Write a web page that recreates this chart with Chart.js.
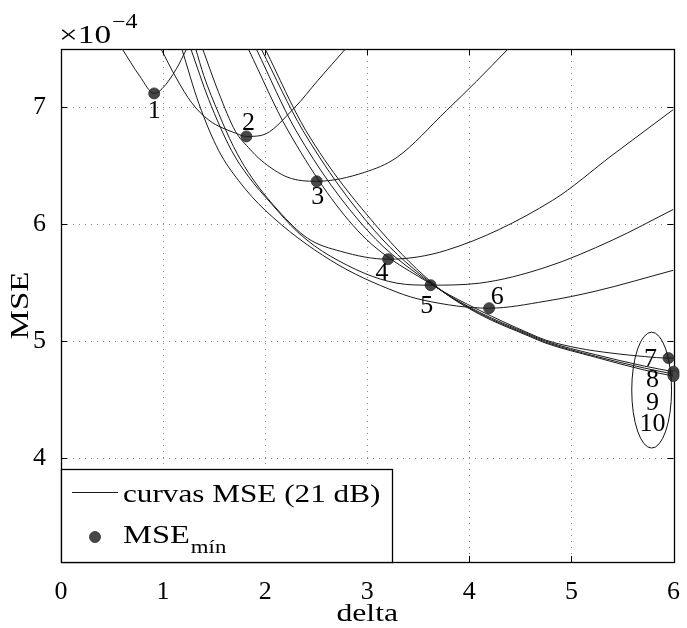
<!DOCTYPE html>
<html><head><meta charset="utf-8">
<script src="https://cdn.jsdelivr.net/npm/chart.js@4/dist/chart.umd.min.js"></script>
<style>html,body{margin:0;padding:0;background:#fff;}#wrap{width:687px;height:628px;}</style>
</head><body><div id="wrap"><canvas id="c" width="687" height="628"></canvas></div>
<script>
// ---- data (MSE in units of 1e-4) ----
const xTicks=[0,1,2,3,4,5,6];
const yTicks=[4,5,6,7];
const xRange=[0,6];
const yRange=[3.11,7.5];
const curve1=[[0.60,7.50],[0.77,7.27],[0.913,7.12],[0.99,7.16],[1.13,7.33],[1.23,7.50]];
const curve2=[[0.98,7.50],[1.13,7.25],[1.28,7.04],[1.45,6.89],[1.71,6.78],[1.816,6.752],[1.96,6.76],[2.29,7.00],[2.515,7.23],[2.786,7.50]];
const curve3=[[1.388,7.50],[1.544,7.128],[1.709,6.795],[1.835,6.658],[1.961,6.547],[2.223,6.402],[2.505,6.368],[2.971,6.444],[3.291,6.573],[3.777,6.974],[4.068,7.222],[4.379,7.50]];
const curve4=[[1.32,7.50],[1.398,7.274],[1.544,6.949],[1.689,6.667],[1.835,6.444],[2.126,6.12],[2.417,5.88],[2.738,5.769],[3.204,5.701],[3.777,5.778],[4.816,6.205],[5.398,6.59],[6.0,6.983]];
const curve5=[[1.272,7.50],[1.447,7.068],[1.67,6.632],[1.835,6.41],[2.058,6.179],[2.32,5.932],[2.641,5.726],[3.291,5.496],[3.621,5.479],[4.097,5.496],[4.748,5.632],[5.398,5.863],[6.0,6.128]];
const curve6=[[1.184,7.50],[1.35,7.034],[1.544,6.632],[1.738,6.376],[2.0,6.12],[2.641,5.692],[3.291,5.419],[3.553,5.35],[4.194,5.282],[4.748,5.342],[5.233,5.427],[6.0,5.607]];
const curve7=[[1.835,7.50],[2.223,6.803],[2.903,5.949],[3.641,5.479],[4.097,5.265],[4.583,5.068],[4.748,5.009],[5.068,4.94],[5.398,4.897],[5.718,4.868],[5.951,4.855],[6.0,4.855]];
const curve8=[[1.913,7.50],[2.301,6.803],[3.0,5.949],[3.66,5.47],[4.097,5.248],[4.583,5.06],[4.748,5.0],[5.233,4.885],[5.718,4.786],[6.0,4.738]];
const curve9=[[1.961,7.50],[2.369,6.803],[3.068,5.949],[3.68,5.462],[4.097,5.239],[4.583,5.051],[4.748,4.991],[5.233,4.872],[5.718,4.769],[6.0,4.718]];
const curve10=[[2.0,7.50],[2.398,6.803],[3.126,5.949],[3.699,5.453],[4.097,5.231],[4.583,5.043],[4.748,4.983],[5.233,4.863],[5.718,4.752],[6.0,4.701]];
const curves=[curve1,curve2,curve3,curve4,curve5,curve6,curve7,curve8,curve9,curve10];
const minX=[0.913,1.816,2.505,3.204,3.621,4.194,5.951,6.0,6.0,6.0];
const minY=[7.12,6.752,6.368,5.701,5.479,5.282,4.855,4.738,4.718,4.701];
const minLabels=['1','2','3','4','5','6','7','8','9','10'];
const curveLabel='curvas MSE (21 dB)';
const minLabel='MSE';
const minSub='mín';
const xTitle='delta';
const yTitle='MSE';
const expBase='\u00d710';
const expPow='\u22124';
// ---- styles ----
const labelDx=[0,2,1,-6,-4,8,-18,-21,-21,-21];
const labelDy=[16,-15,14,12,19,-13,-1,7,27,46];
const FONT='"Liberation Serif", "DejaVu Serif", serif';
const FS=26;
const SX=1.2;
const ell={cx:5.786,cy:4.581,rx:0.195,ry:0.496};

function sText(ctx,t,x,y,sx,align,rot){
  ctx.save();ctx.translate(x,y);if(rot)ctx.rotate(rot);ctx.scale(sx,1);
  ctx.textAlign=align||'left';ctx.textBaseline='alphabetic';ctx.fillText(t,0,0);
  const w=ctx.measureText(t).width*sx;ctx.restore();return w;
}

const datasets=curves.map((c,i)=>({
  type:'line',label:i===0?curveLabel:'',data:c.map(p=>({x:p[0],y:p[1]})),
  borderColor:'#1a1a1a',borderWidth:1,pointRadius:0,pointHoverRadius:0,fill:false,
  cubicInterpolationMode:'monotone'
}));
datasets.push({type:'scatter',label:minLabel,data:minX.map((v,i)=>({x:v,y:minY[i]})),
  pointRadius:5.5,pointHoverRadius:5.5,backgroundColor:'#474747',borderColor:'#303030',borderWidth:0.8,clip:false});

const deco={
  id:'deco',
  beforeDatasetsDraw(chart){
    const {ctx,chartArea:a,scales:{x,y}}=chart;
    ctx.save();
    ctx.strokeStyle='#8a8a8a';ctx.lineWidth=1;ctx.setLineDash([1,5]);
    xTicks.forEach(v=>{if(v<=xRange[0]||v>=xRange[1])return;const px=Math.round(x.getPixelForValue(v))+0.5;ctx.beginPath();ctx.moveTo(px,a.top);ctx.lineTo(px,a.bottom);ctx.stroke();});
    yTicks.forEach(v=>{const py=Math.round(y.getPixelForValue(v))+0.5;ctx.beginPath();ctx.moveTo(a.left,py);ctx.lineTo(a.right,py);ctx.stroke();});
    ctx.setLineDash([]);
    ctx.strokeStyle='#000';ctx.lineWidth=1;
    const T=6;
    xTicks.forEach(v=>{const px=Math.round(x.getPixelForValue(v))+0.5;ctx.beginPath();ctx.moveTo(px,a.bottom);ctx.lineTo(px,a.bottom-T);ctx.moveTo(px,a.top);ctx.lineTo(px,a.top+T);ctx.stroke();});
    yTicks.forEach(v=>{const py=Math.round(y.getPixelForValue(v))+0.5;ctx.beginPath();ctx.moveTo(a.left,py);ctx.lineTo(a.left+T,py);ctx.moveTo(a.right,py);ctx.lineTo(a.right-T,py);ctx.stroke();});
    ctx.lineWidth=1.3;
    ctx.strokeRect(Math.round(a.left)+0.5,Math.round(a.top)+0.5,Math.round(a.right-a.left),Math.round(a.bottom-a.top));
    ctx.restore();
  },
  afterDatasetsDraw(chart){
    const {ctx,chartArea:a,scales:{x,y}}=chart;
    ctx.save();
    ctx.fillStyle='#000';
    ctx.font=FS+'px '+FONT;ctx.textAlign='center';ctx.textBaseline='alphabetic';
    minLabels.forEach((t,i)=>{
      const px=x.getPixelForValue(minX[i])+labelDx[i];
      const py=y.getPixelForValue(minY[i])+labelDy[i];
      ctx.fillText(t,px,py+8.5);
    });
    // ellipse
    const ecx=x.getPixelForValue(ell.cx),ecy=y.getPixelForValue(ell.cy);
    const erx=Math.abs(x.getPixelForValue(ell.cx+ell.rx)-ecx),ery=Math.abs(y.getPixelForValue(ell.cy+ell.ry)-ecy);
    ctx.strokeStyle='#111';ctx.lineWidth=1;
    ctx.beginPath();ctx.ellipse(ecx,ecy,erx,ery,0,0,Math.PI*2);ctx.stroke();
    // legend
    const L=Math.round(a.left)+0.5,B=Math.round(a.bottom)+0.5,Tp=469.5,R=392.5;
    ctx.fillStyle='#fff';ctx.fillRect(L,Tp,R-L,B-Tp);
    ctx.strokeStyle='#000';ctx.lineWidth=1.3;ctx.strokeRect(L,Tp,R-L,B-Tp);
    ctx.lineWidth=1;ctx.strokeStyle='#1a1a1a';
    ctx.beginPath();ctx.moveTo(72,492.5);ctx.lineTo(118,492.5);ctx.stroke();
    ctx.fillStyle='#000';
    ctx.font=FS+'px '+FONT;
    sText(ctx,curveLabel,123,502,SX);
    const ds=chart.data.datasets[chart.data.datasets.length-1];
    ctx.fillStyle=ds.backgroundColor;ctx.strokeStyle=ds.borderColor;ctx.lineWidth=0.8;
    ctx.beginPath();ctx.arc(95,537,5.5,0,Math.PI*2);ctx.fill();ctx.stroke();
    ctx.fillStyle='#000';
    const w=sText(ctx,minLabel,123,543,1.25);
    ctx.font='19px '+FONT;sText(ctx,minSub,123+w+1,553,1.2);
    // exponent
    ctx.font=FS+'px '+FONT;
    const w2=sText(ctx,expBase,59,43,1.28);
    ctx.font='20px '+FONT;sText(ctx,expPow,59+w2+1,28,1.2);
    // axis titles
    ctx.font=FS+'px '+FONT;
    sText(ctx,xTitle,(a.left+a.right)/2,621,1.22,'center');
    sText(ctx,yTitle,28,(a.top+a.bottom)/2,1.27,'center',-Math.PI/2);
    ctx.restore();
  }
};

new Chart(document.getElementById('c'),{
  data:{datasets},
  options:{
    responsive:false,animation:false,devicePixelRatio:1,events:[],
    layout:{padding:{top:49,right:9,left:0,bottom:0}},
    plugins:{legend:{display:false},tooltip:{enabled:false}},
    scales:{
      x:{type:'linear',min:xRange[0],max:xRange[1],
        afterFit(s){s.height=66;},
        afterBuildTicks(s){s.ticks=xTicks.map(v=>({value:v}));},
        grid:{display:false},border:{display:false},
        ticks:{font:{family:FONT,size:FS},color:'#000',padding:7,maxRotation:0,autoSkip:false},
        title:{display:false,text:xTitle}
      },
      y:{type:'linear',min:yRange[0],max:yRange[1],
        afterFit(s){s.width=61;},
        afterBuildTicks(s){s.ticks=yTicks.map(v=>({value:v}));},
        grid:{display:false},border:{display:false},
        ticks:{font:{family:FONT,size:FS},color:'#000',padding:7,autoSkip:false},
        title:{display:false,text:yTitle}
      }
    }
  },
  plugins:[deco]
});
</script></body></html>
